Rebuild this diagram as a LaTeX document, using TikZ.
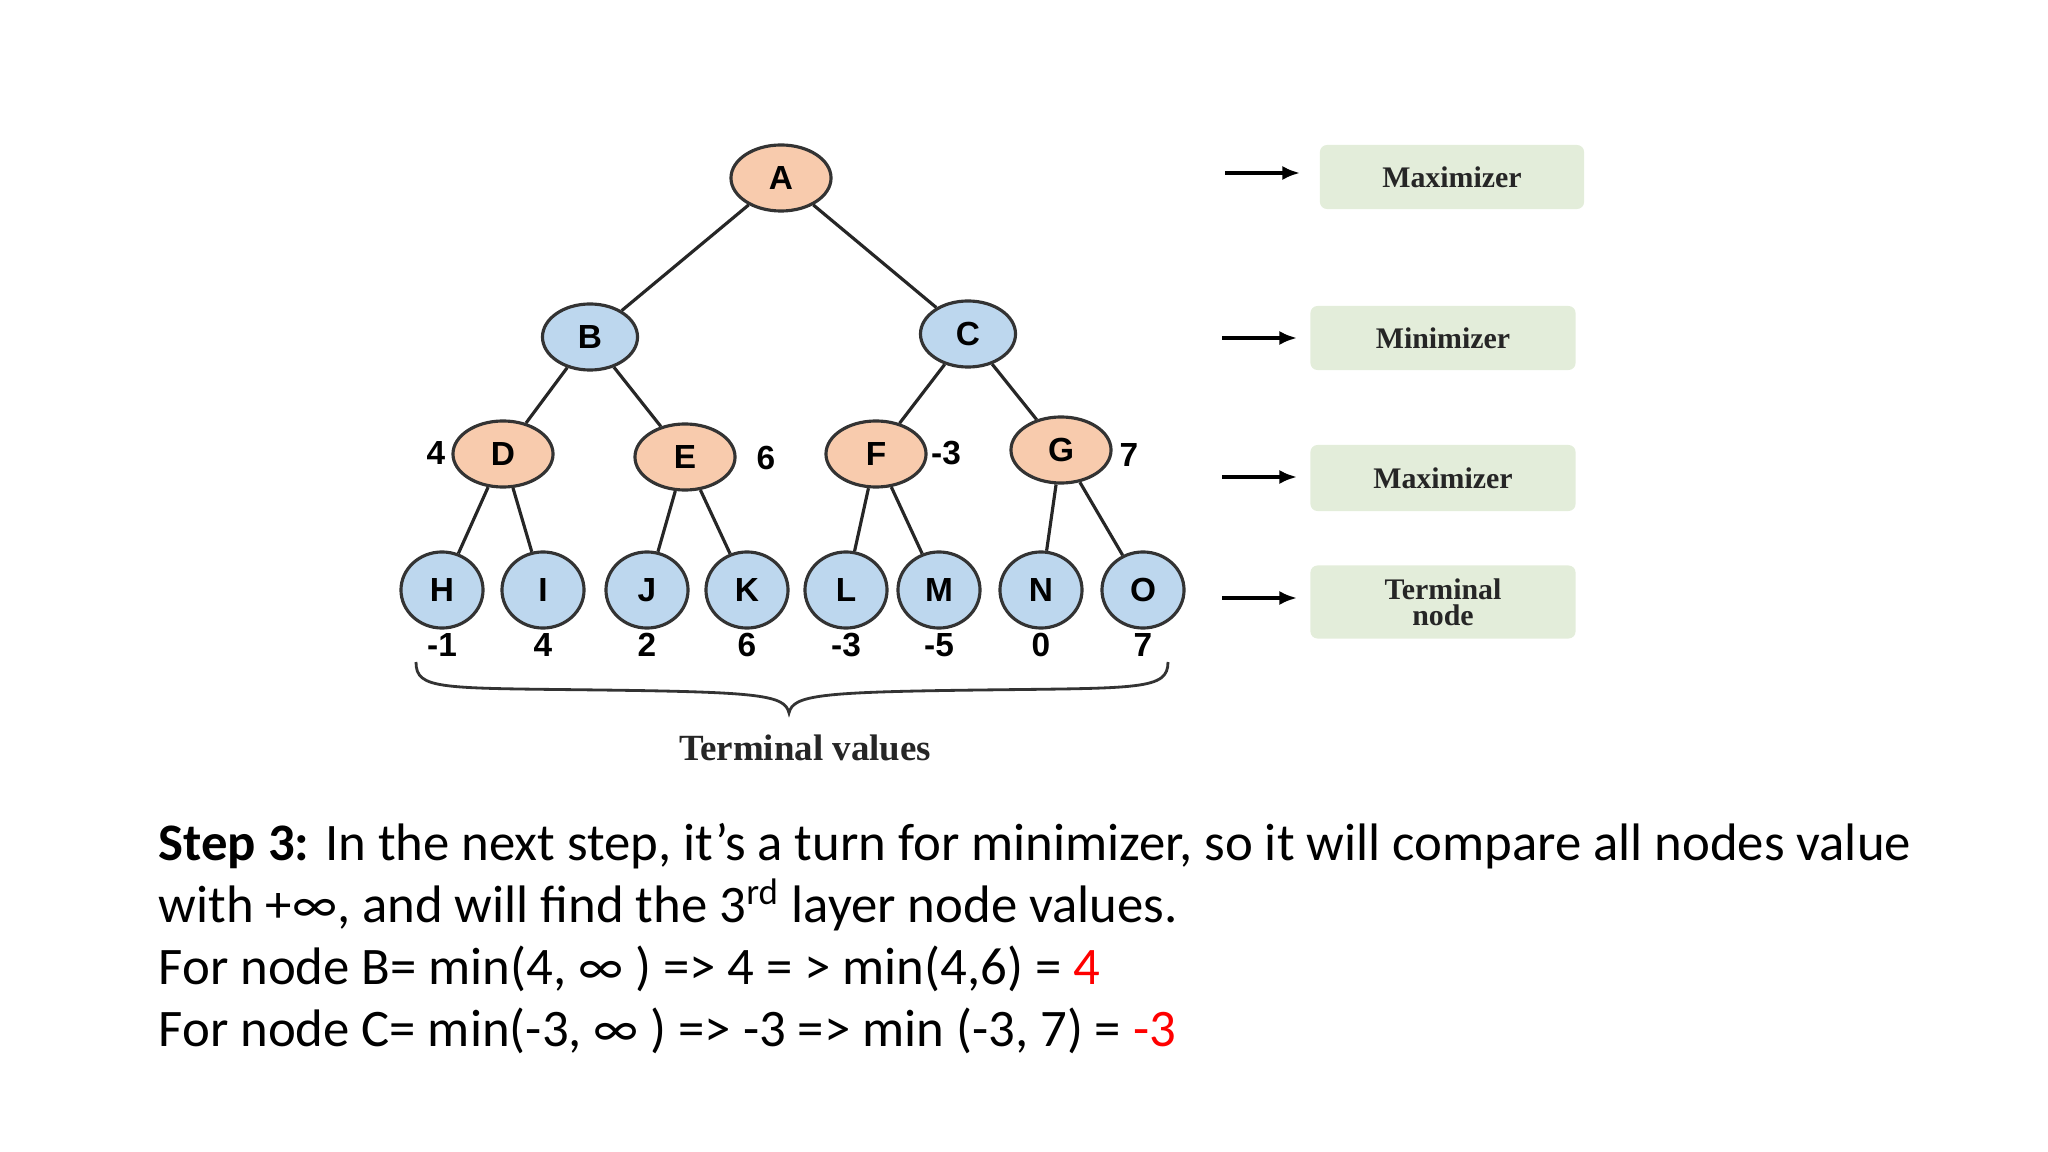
\documentclass[tikz,border=0pt]{standalone}
\usepackage{fontspec}
\setmainfont{Carlito}
\newfontfamily\nodefont{Liberation Sans}
\newfontfamily\serf{Liberation Serif}
\usetikzlibrary{shapes.geometric,arrows.meta}
\definecolor{orn}{HTML}{F8CBAD}
\definecolor{blu}{HTML}{BDD7EE}
\definecolor{grn}{HTML}{E3EDDA}
\begin{document}
\begin{tikzpicture}[x=0.01cm,y=-0.01cm,
  mx/.style={ellipse,draw=black!80,line width=0.9pt,fill=orn,minimum width=100\pgflinewidth,inner sep=0pt,minimum width=1.0cm,minimum height=0.66cm,font=\nodefont\bfseries\fontsize{9.5}{10}\selectfont},
  mn/.style={mx,fill=blu,minimum width=0.95cm,minimum height=0.66cm},
  lf/.style={mx,fill=blu,minimum width=0.82cm,minimum height=0.76cm},
  val/.style={font=\nodefont\bfseries\fontsize{9.5}{10}\selectfont},
  edge/.style={line width=0.9pt,black!85},
  box/.style={fill=grn,rounded corners=2pt,font=\serf\bfseries\fontsize{8.5}{9.5}\selectfont,align=center,text=black!85},
  arr/.style={-{Latex[length=5pt,width=4pt]},line width=1.1pt}]
\useasboundingbox (0,0) rectangle (2048,1152);
\node[mx] (A) at (781,178) {A};
\node[mn] (B) at (590,337) {B};
\node[mn] (C) at (968,334) {C};
\node[mx] (D) at (503,454) {D};
\node[mx] (E) at (685,457) {E};
\node[mx] (F) at (876,454) {F};
\node[mx] (G) at (1061,450) {G};
\foreach \n/\x/\v in {H/442/-1,I/543/4,J/647/2,K/747/6,L/846/-3,M/939/-5,N/1041/0,O/1143/7}{
  \node[lf] (\n) at (\x,590) {\n};
  \node[val] (v\n) at (\x,645) {\v};
}
\foreach \p/\c in {A/B,A/C,B/D,B/E,C/F,C/G,D/H,D/I,E/J,E/K,F/L,F/M,G/N,G/O}
  \draw[edge] (\p) -- (\c);
\node[val] (vD) at (436,453) {4};
\node[val] (vE) at (766,458) {6};
\node[val] (vF) at (946,453) {-3};
\node[val] (vG) at (1129,455) {7};
\coordinate (b1) at (416,662);
\coordinate (bt) at (789,713);
\coordinate (b2) at (1168,662);
\draw[line width=0.8pt,black!80] (b1) .. controls (416,690) and (440,688) .. (600,690)
  .. controls (760,692) and (785,695) .. (bt)
  .. controls (793,695) and (820,692) .. (980,690)
  .. controls (1140,688) and (1168,690) .. (b2);
\node[font=\serf\bfseries\fontsize{10.5}{12}\selectfont,text=black!85] (tv) at (805,748) {Terminal values};
\node[box,minimum width=2.64cm,minimum height=0.64cm] (m1) at (1452,177) {Maximizer};
\node[box,minimum width=2.65cm,minimum height=0.64cm] (m2) at (1443,338) {Minimizer};
\node[box,minimum width=2.65cm,minimum height=0.66cm] (m3) at (1443,478) {Maximizer};
\node[box,minimum width=2.65cm,minimum height=0.73cm] (m4) at (1443,602) {Terminal\\[-2pt]node};
\coordinate (a1) at (1225,173); \draw[arr] (a1) -- ++(75,0);
\coordinate (a2) at (1222,338); \draw[arr] (a2) -- ++(75,0);
\coordinate (a3) at (1222,477); \draw[arr] (a3) -- ++(75,0);
\coordinate (a4) at (1222,598); \draw[arr] (a4) -- ++(75,0);
\node[anchor=north west,align=left,font=\fontsize{15}{17.6}\selectfont,inner sep=0pt] (txt) at (158,823) {%
\textbf{Step 3:} In the next step, it's a turn for minimizer, so it will compare all nodes value\\
with +\char"221E, and will find the 3\textsuperscript{rd} layer node values.\\
For node B= min(4, \char"221E\ ) => 4 = > min(4,6) = \textcolor{red}{4}\\
For node C= min(-3, \char"221E\ ) => -3 => min (-3, 7) = \textcolor{red}{-3}};
\end{tikzpicture}
\end{document}
